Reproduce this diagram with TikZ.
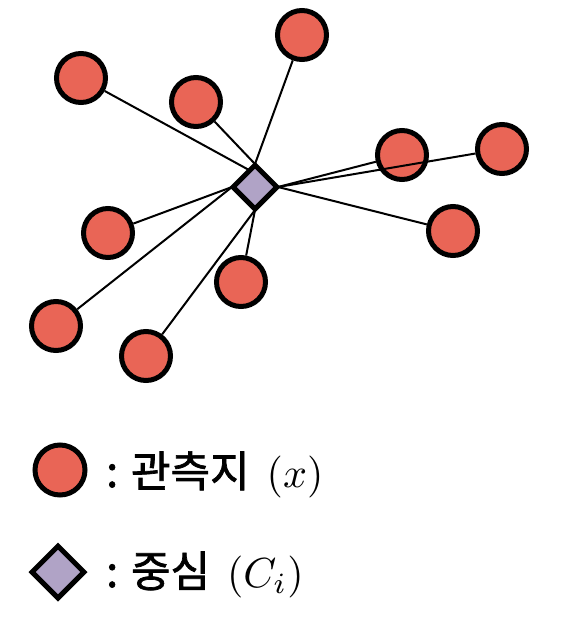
\documentclass[tikz,border=0pt]{standalone}
\usepackage{fontspec}
\newfontfamily\kr[FakeBold=1.6]{Noto Sans CJK KR}
\usetikzlibrary{shapes.geometric}
\definecolor{obs}{RGB}{233,101,86}
\definecolor{ctr}{RGB}{176,163,198}
\newcommand{\bigmath}[1]{\hspace{17pt}\scalebox{4.2}{\normalsize$#1$}}
\begin{document}
\begin{tikzpicture}[x=1pt,y=-1pt,
  obsnode/.style={circle,draw=black,fill=obs,line width=5pt,minimum size=49pt,inner sep=0pt},
  ctrnode/.style={diamond,draw=black,fill=ctr,line width=5pt,minimum size=46pt,inner sep=0pt,aspect=1},
  link/.style={line width=2pt},
  legtext/.style={anchor=base west,inner sep=0pt,font=\kr\fontsize{43}{50}\selectfont}]
\useasboundingbox (0,0) rectangle (572,622);
% observation circles
\node[obsnode] (o1) at (81,78) {};
\node[obsnode] (o2) at (196,102) {};
\node[obsnode] (o3) at (302,35) {};
\node[obsnode] (o4) at (402,155) {};
\node[obsnode] (o5) at (502,149) {};
\node[obsnode] (o6) at (453,231) {};
\node[obsnode] (o7) at (108,233) {};
\node[obsnode] (o8) at (241,282) {};
\node[obsnode] (o9) at (56,326) {};
\node[obsnode] (o10) at (146,356) {};
% attachment points on the centre
\coordinate (ctop) at (255,164);
\coordinate (cul) at (249,170);
\coordinate (cright) at (278,187);
\coordinate (cbot) at (255,210);
\coordinate (cleft) at (232,187);
% connectors
\draw[link] (cul) -- (o1);
\draw[link] (ctop) -- (o2);
\draw[link] (ctop) -- (o3);
\draw[link] (cright) -- (o4);
\draw[link] (cright) -- (o5);
\draw[link] (cright) -- (o6);
\draw[link] (cleft) -- (o7);
\draw[link] (cbot) -- (o8);
\draw[link] (cleft) -- (o9);
\draw[link] (cbot) -- (o10);
% centre
\node[ctrnode] (c) at (255,187) {};
% legend
\node[obsnode,minimum size=50pt] (l1) at (60,470) {};
\node[ctrnode,minimum size=54pt] (l2) at (58,572) {};
\node[legtext] (t1) at (106,487) {: 관측지\bigmath{(x)}};
\node[legtext] (t2) at (106,587) {: 중심\bigmath{(C_i)}};
\end{tikzpicture}
\end{document}
